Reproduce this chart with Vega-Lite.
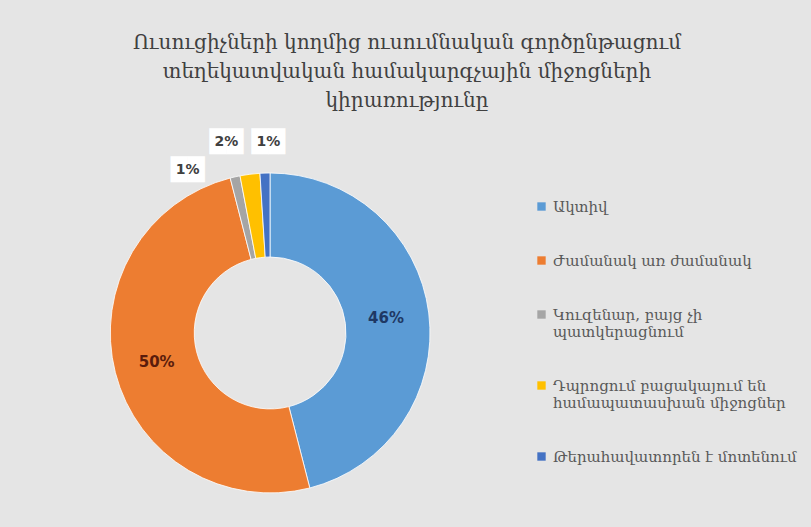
{
  "$schema": "https://vega.github.io/schema/vega-lite/v6.json",
  "autosize": "none",
  "width": 320,
  "height": 330,
  "padding": {"left": 110, "top": 168, "right": 381, "bottom": 29},
  "background": "#e5e5e5",
  "config": {"view": {"stroke": null}},
  "title": {
    "text": ["Ուսուցիչների կողմից ուսումնական գործընթացում", "տեղեկատվական համակարգչային միջոցների", "կիրառությունը"],
    "anchor": "middle",
    "dx": 137,
    "offset": 19,
    "font": "DejaVu Serif",
    "fontSize": 20,
    "fontWeight": "normal",
    "lineHeight": 29,
    "color": "#404040"
  },
  "data": {
    "values": [
      {"cat": "Ակտիվ", "v": 46, "n": 1, "label": "46%"},
      {"cat": "Ժամանակ առ ժամանակ", "v": 50, "n": 2, "label": "50%"},
      {"cat": "Կուզենար, բայց չի պատկերացնում", "v": 1, "n": 3, "label": "1%"},
      {"cat": "Դպրոցում բացակայում են համապատասխան միջոցներ", "v": 2, "n": 4, "label": "2%"},
      {"cat": "Թերահավատորեն է մոտենում", "v": 1, "n": 5, "label": "1%"}
    ]
  },
  "encoding": {
    "theta": {"field": "v", "type": "quantitative", "stack": true},
    "order": {"field": "n", "type": "quantitative"}
  },
  "layer": [
    {
      "mark": {"type": "arc", "innerRadius": 76, "outerRadius": 160, "stroke": "#ffffff", "strokeWidth": 0.8},
      "encoding": {
        "color": {
          "field": "cat",
          "type": "nominal",
          "scale": {
            "domain": ["Ակտիվ", "Ժամանակ առ ժամանակ", "Կուզենար, բայց չի պատկերացնում", "Դպրոցում բացակայում են համապատասխան միջոցներ", "Թերահավատորեն է մոտենում"],
            "range": ["#5b9bd5", "#ed7d31", "#a5a5a5", "#ffc000", "#4472c4"]
          },
          "legend": {
            "title": null,
            "orient": "none",
            "legendX": 416,
            "legendY": 23,
            "padding": 8,
            "symbolType": "square",
            "symbolSize": 70,
            "symbolStrokeWidth": 0,
            "labelFont": "DejaVu Serif",
            "labelFontSize": 15,
            "labelColor": "#595959",
            "labelLimit": 300,
            "rowPadding": 38,
            "labelExpr": "datum.label == 'Կուզենար, բայց չի պատկերացնում' ? ['Կուզենար, բայց չի', 'պատկերացնում'] : datum.label == 'Դպրոցում բացակայում են համապատասխան միջոցներ' ? ['Դպրոցում բացակայում են', 'համապատասխան միջոցներ'] : datum.label"
          }
        }
      }
    },
    {
      "mark": {"type": "text", "radius": 117, "font": "DejaVu Sans", "fontSize": 15, "fontWeight": "bold"},
      "encoding": {
        "text": {"condition": {"test": "datum.v >= 10", "field": "label"}, "value": ""},
        "color": {"condition": {"test": "datum.n == 1", "value": "#1f3864"}, "value": "#5a1c0c"}
      }
    },
    {
      "mark": {"type": "text", "radius": 180, "dx": -43, "dy": 13, "font": "DejaVu Sans", "fontSize": 22, "color": "#ffffff"},
      "encoding": {"text": {"condition": {"test": "datum.n == 3", "value": "██"}, "value": ""}}
    },
    {
      "mark": {"type": "text", "radius": 180, "dx": -43, "dy": 13, "font": "DejaVu Sans", "fontSize": 14, "fontWeight": "bold", "color": "#404040"},
      "encoding": {"text": {"condition": {"test": "datum.n == 3", "field": "label"}, "value": ""}}
    },
    {
      "mark": {"type": "text", "radius": 180, "dx": -21, "dy": -12, "font": "DejaVu Sans", "fontSize": 22, "color": "#ffffff"},
      "encoding": {"text": {"condition": {"test": "datum.n == 4", "value": "██"}, "value": ""}}
    },
    {
      "mark": {"type": "text", "radius": 180, "dx": -21, "dy": -12, "font": "DejaVu Sans", "fontSize": 14, "fontWeight": "bold", "color": "#404040"},
      "encoding": {"text": {"condition": {"test": "datum.n == 4", "field": "label"}, "value": ""}}
    },
    {
      "mark": {"type": "text", "radius": 180, "dx": 4, "dy": -11, "font": "DejaVu Sans", "fontSize": 22, "color": "#ffffff"},
      "encoding": {"text": {"condition": {"test": "datum.n == 5", "value": "██"}, "value": ""}}
    },
    {
      "mark": {"type": "text", "radius": 180, "dx": 4, "dy": -11, "font": "DejaVu Sans", "fontSize": 14, "fontWeight": "bold", "color": "#404040"},
      "encoding": {"text": {"condition": {"test": "datum.n == 5", "field": "label"}, "value": ""}}
    }
  ]
}
